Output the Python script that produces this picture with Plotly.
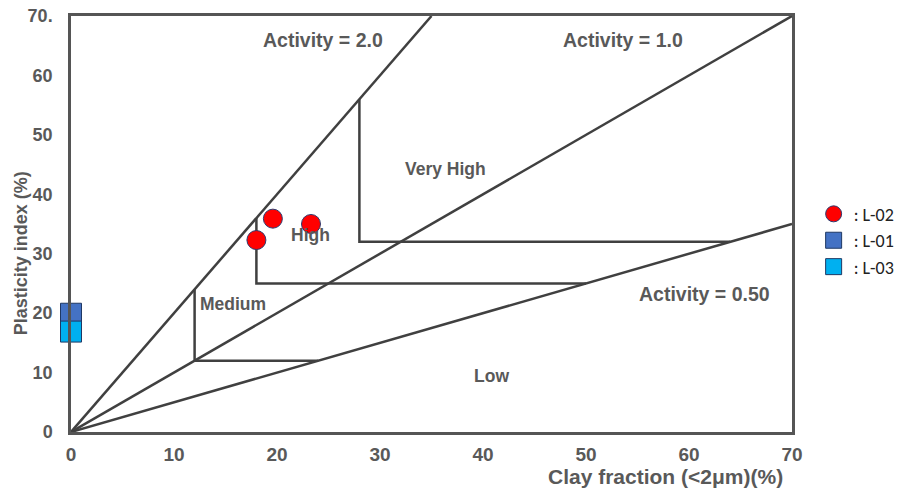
import plotly.graph_objects as go

# ---- data ----
activity_values = [2.0, 1.0, 0.5]
activity_labels = ["Activity = 2.0", "Activity = 1.0", "Activity = 0.50"]
boundary_x = [12, 18, 28]          # vertical boundary clay fraction
boundary_y = [12, 25, 32]          # horizontal boundary plasticity index
region_names = ["Low", "Medium", "High", "Very High"]

l02_clay = [18, 19.6, 23.3]
l02_pi = [32.3, 35.9, 35.0]
l01_clay = [0]
l01_pi = [19.9]
l03_clay = [0]
l03_pi = [16.9]

x_ticks = [0, 10, 20, 30, 40, 50, 60, 70]
y_ticks = [0, 10, 20, 30, 40, 50, 60, 70]
y_tick_labels = ["0", "10", "20", "30", "40", "50", "60", "70."]

XMAX, YMAX = 70, 70
LINE = "#404040"
TXT = "#595959"
FONT = "Liberation Sans, Arial, sans-serif"

fig = go.Figure()

# activity lines from origin
for a in activity_values:
    xe = min(XMAX, YMAX / a)
    fig.add_trace(go.Scatter(x=[0, xe], y=[0, a * xe], mode="lines",
                             line=dict(color=LINE, width=2.5),
                             showlegend=False, hoverinfo="skip"))

# region boundaries: vertical from A=2 line down, then horizontal to A=0.5 line
for bx, by in zip(boundary_x, boundary_y):
    top = activity_values[0] * bx
    xend = by / activity_values[2]
    fig.add_trace(go.Scatter(x=[bx, bx, xend], y=[top, by, by], mode="lines",
                             line=dict(color=LINE, width=2.5),
                             showlegend=False, hoverinfo="skip"))

fig.add_trace(go.Scatter(x=l02_clay, y=l02_pi, mode="markers", name=": L-02",
                         marker=dict(symbol="circle", size=19, color="#FF0000",
                                     line=dict(color="#2E3A6E", width=1)),
                         cliponaxis=False))
fig.add_trace(go.Scatter(x=l01_clay, y=l01_pi, mode="markers", name=": L-01",
                         marker=dict(symbol="square", size=21, color="#4472C4",
                                     line=dict(color="#1F3864", width=1)),
                         cliponaxis=False))
fig.add_trace(go.Scatter(x=l03_clay, y=l03_pi, mode="markers", name=": L-03",
                         marker=dict(symbol="square", size=21, color="#00B0F0",
                                     line=dict(color="#1F3864", width=1)),
                         cliponaxis=False))

annots = [
    dict(x=24.5, y=66.0, text=activity_labels[0], size=19.5),
    dict(x=53.6, y=66.0, text=activity_labels[1], size=19.5),
    dict(x=61.5, y=23.3, text=activity_labels[2], size=19.5),
    dict(x=36.4, y=44.3, text=region_names[3], size=17.5),
    dict(x=23.3, y=33.2, text=region_names[2], size=17.5),
    dict(x=15.7, y=21.5, text=region_names[1], size=17.5),
    dict(x=40.8, y=9.4, text=region_names[0], size=17.5),
]
for a in annots:
    fig.add_annotation(x=a["x"], y=a["y"], text=a["text"], showarrow=False,
                       font=dict(family=FONT, size=a["size"], color=TXT, weight="bold"))

fig.add_annotation(xref="paper", yref="paper", x=0.824, y=-0.075, xanchor="center",
                   yanchor="top", text="Clay fraction (<2μm)(%)", showarrow=False,
                   font=dict(family=FONT, size=21, color=TXT, weight="bold"))
fig.add_annotation(xref="paper", yref="paper", x=-0.069, y=0.43, xanchor="center",
                   yanchor="middle", text="Plasticity index (%)", textangle=-90,
                   showarrow=False,
                   font=dict(family=FONT, size=18, color=TXT, weight="bold"))

fig.update_xaxes(range=[0, XMAX], tickvals=x_ticks, showgrid=False, zeroline=False,
                 showline=True, mirror=True, linecolor="#555555", linewidth=2.5,
                 ticks="", ticklabelstandoff=3, automargin=False,
                 tickfont=dict(family=FONT, size=19, color=TXT, weight="bold"))
fig.update_yaxes(range=[0, YMAX], tickvals=y_ticks, ticktext=y_tick_labels,
                 showgrid=False, zeroline=False, automargin=False,
                 showline=True, mirror=True, linecolor="#555555", linewidth=2.5,
                 ticks="", ticklabelstandoff=12,
                 tickfont=dict(family=FONT, size=18, color=TXT, weight="bold"))

fig.update_layout(width=899, height=489, plot_bgcolor="white", paper_bgcolor="white",
                  margin=dict(l=71, r=107, t=16, b=57, autoexpand=False),
                  legend=dict(x=1.03, y=0.46, xanchor="left", yanchor="middle",
                              font=dict(family="Carlito, Calibri, Liberation Sans, sans-serif",
                                        size=18, color="#222222"),
                              itemwidth=30, tracegroupgap=4))

fig.write_html("out.html", config={"displayModeBar": False})

# remove the default page margin so the figure fills the window exactly
with open("out.html", "r", encoding="utf-8") as f:
    html = f.read()
html = html.replace("<body>", '<body style="margin:0;padding:0;overflow:hidden">', 1)
with open("out.html", "w", encoding="utf-8") as f:
    f.write(html)
